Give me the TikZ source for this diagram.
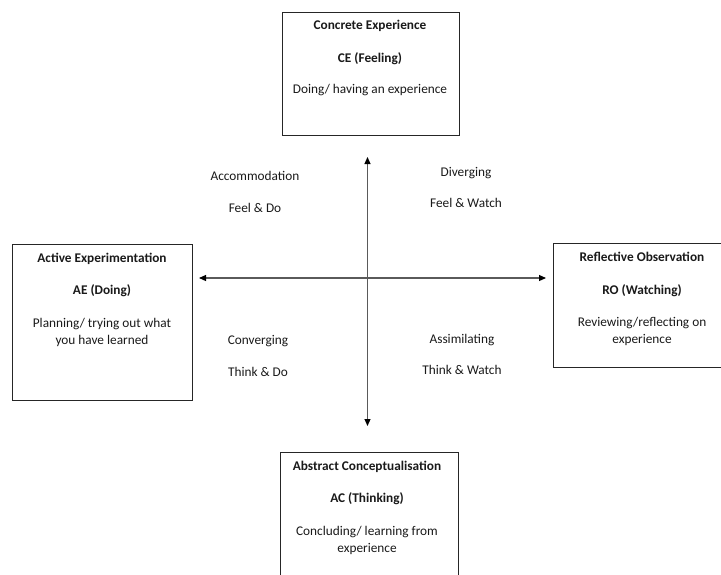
\documentclass[tikz,border=0pt]{standalone}
\usepackage{fontspec}
\setmainfont{Carlito}
\usetikzlibrary{arrows.meta}
\definecolor{txt}{HTML}{1A1A1A}
\definecolor{axis}{HTML}{5A5A5A}
\tikzset{
  box/.style={draw=black!85, line width=0.9pt},
  lbl/.style={inner sep=0pt, anchor=base, font=\fontsize{13.3}{15}\selectfont, text=txt},
  blbl/.style={lbl, font=\fontsize{13.3}{15}\selectfont\bfseries},
  ax/.style={draw=axis, line width=1.1pt, {Triangle[length=7pt,width=6pt,color=black]}-{Triangle[length=7pt,width=6pt,color=black]}}
}
\begin{document}
\begin{tikzpicture}[x=1pt,y=-1pt]
\useasboundingbox (0,0) rectangle (721,574);
\fill[white] (0,0) rectangle (721,574);
% boxes
\draw[box] (282,12) rectangle (459,135);
\node[inner sep=0pt] (ce) at (370.5,73.5) {};
\draw[box] (12,244) rectangle (192,400);
\node[inner sep=0pt] (ae) at (102,322) {};
\draw[box] (722,243) -- (553.5,243) -- (553.5,367.5) -- (722,367.5);
\node[inner sep=0pt] (ro) at (637,305) {};
\draw[box] (280.5,580) -- (280.5,452.5) -- (458,452.5) -- (458,580);
\node[inner sep=0pt] (ac) at (369,513) {};
% box texts
\node[blbl] (ce1) at (370,29.5) {Concrete Experience};
\node[blbl] (ce2) at (370,62.5) {CE (Feeling)};
\node[lbl]  (ce3) at (370,93.5) {Doing/ having an experience};
\node[blbl] (ae1) at (102,262.5) {Active Experimentation};
\node[blbl] (ae2) at (102,294.5) {AE (Doing)};
\node[lbl]  (ae3) at (102,327.5) {Planning/ trying out what};
\node[lbl]  (ae4) at (102,344.5) {you have learned};
\node[blbl] (ro1) at (642,261.5) {Reflective Observation};
\node[blbl] (ro2) at (642,294.5) {RO (Watching)};
\node[lbl]  (ro3) at (642,326.5) {Reviewing/reflecting on};
\node[lbl]  (ro4) at (642,343.5) {experience};
\node[blbl] (ac1) at (367,470.5) {Abstract Conceptualisation};
\node[blbl] (ac2) at (367,502.5) {AC (Thinking)};
\node[lbl]  (ac3) at (367,535.5) {Concluding/ learning from};
\node[lbl]  (ac4) at (367,552.5) {experience};
% quadrant labels
\node[lbl] (q1a) at (255,180.5) {Accommodation};
\node[lbl] (q1b) at (255,212.5) {Feel \& Do};
\node[lbl] (q2a) at (466,176.5) {Diverging};
\node[lbl] (q2b) at (466,207.5) {Feel \& Watch};
\node[lbl] (q3a) at (258,344.5) {Converging};
\node[lbl] (q3b) at (258,376.5) {Think \& Do};
\node[lbl] (q4a) at (462,343.5) {Assimilating};
\node[lbl] (q4b) at (462,374.5) {Think \& Watch};
% axes
\coordinate (top) at (367.5,157);
\coordinate (bot) at (367.5,426);
\coordinate (lft) at (199,278);
\coordinate (rgt) at (546,278);
\draw[ax] (bot) -- (top);
\draw[ax] (lft) -- (rgt);
\end{tikzpicture}
\end{document}
